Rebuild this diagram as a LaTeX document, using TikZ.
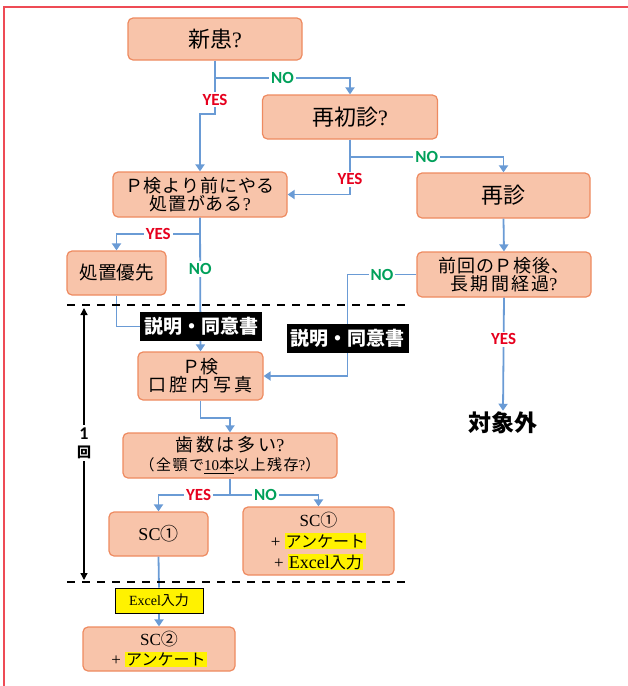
\documentclass[tikz,border=0pt]{standalone}
\usepackage{fontspec}
\setmainfont{Liberation Serif}
\newfontfamily\jpf{Noto Sans CJK JP}
\newfontfamily\jps[LetterSpace=5]{Noto Sans CJK JP}
\newfontfamily\calfont{Carlito}
\usetikzlibrary{arrows.meta,calc}
\definecolor{boxfill}{HTML}{F8C4AA}
\definecolor{boxline}{HTML}{EE8A60}
\definecolor{arrblue}{HTML}{6A9BD5}
\definecolor{yesred}{HTML}{E6001E}
\definecolor{nogreen}{HTML}{00A05A}
\definecolor{framered}{HTML}{EE4B55}
\newcommand\hl[1]{{\setlength\fboxsep{1pt}\colorbox{yellow}{#1}}}
\newcommand\fs[2]{\fontsize{#1}{#2}\selectfont}
\begin{document}
\begin{tikzpicture}[x=1pt,y=-1pt,
  box/.style={draw=boxline, fill=boxfill, line width=1.2pt, rounded corners=5pt,
    inner sep=0pt, align=center, text=black},
  arr/.style={draw=arrblue, line width=1.8pt, -{Triangle[length=7pt,width=9pt]}},
  ln/.style={draw=arrblue, line width=1.8pt},
  yes/.style={fill=white, text=yesred, font=\calfont\bfseries\fs{17}{17}, inner sep=2pt},
  no/.style={fill=white, text=nogreen, font=\calfont\bfseries\fs{17}{17}, inner sep=2pt},
  blk/.style={fill=black, text=white, font=\jpf\bfseries\fs{19}{19}, minimum width=122,
    minimum height=29, inner sep=0pt},
  dash line/.style={draw=black, line width=1.5pt, dash pattern=on 8pt off 7pt},
]
\useasboundingbox (0,0) rectangle (628,686);
\draw[framered, line width=1.2pt] (4,690) -- (4,7) -- (632,7);

% boxes
\node[box, minimum width=174, minimum height=42, font=\fs{22}{22}] (n1) at (215,39) {{\jpf 新患}?};
\node[box, minimum width=175, minimum height=44, font=\fs{22}{22}] (n2) at (350,117) {{\jpf 再初診}?};
\node[box, minimum width=174, minimum height=45, font=\fs{18}{18}] (n3) at (200,194.5)
  {{\jps Ｐ検より前にやる}\\{\jps 処置がある}?};
\node[box, minimum width=173, minimum height=45, font=\fs{22}{22}] (n4) at (503.5,195.5) {{\jpf 再診}};
\node[box, minimum width=174, minimum height=45, font=\fs{18}{18}] (n5) at (504,274.5)
  {{\jps 前回のＰ検後、}\\{\jps\addfontfeature{LetterSpace=12} 長期間経過}?};
\node[box, minimum width=99, minimum height=44, font=\fs{18.5}{18.5}] (n6) at (116.5,273) {{\jpf 処置優先}};
\node[box, minimum width=125, minimum height=48, font=\fs{18}{18}] (n7) at (200.5,376)
  {{\jps Ｐ検}\\{\jps\addfontfeature{LetterSpace=20} 口腔内写真}};
\node[box, minimum width=214, minimum height=45, font=\fs{18}{19}] (n8) at (230,455.5)
  {{\jps\addfontfeature{LetterSpace=15} 歯数は多い}?\\{\fs{15}{15}{\jps\addfontfeature{LetterSpace=10} （全顎で}\underline{10{\jpf 本}}{\jps\addfontfeature{LetterSpace=10} 以上残存}?{\jpf ）}}};
\node[box, minimum width=99, minimum height=44, font=\fs{18}{18}] (n9) at (158.5,534) {SC{\jpf ①}};
\node[box, minimum width=151, minimum height=68, font=\fs{17}{21}] (n10) at (318.5,541)
  {SC{\jpf ①}\\+ \hl{\fs{16}{16}\jpf アンケート}\\+ \hl{\fs{18}{18}Excel{\jpf\fs{16}{16}入力}}};
\node[draw=black, fill=yellow, line width=1pt, minimum width=88, minimum height=25,
  inner sep=0pt, font=\fs{14}{14}] (n11) at (159,600.5) {Excel{\jpf 入力}};
\node[box, minimum width=152, minimum height=44, font=\fs{17}{20}] (n12) at (159,649)
  {SC{\jpf ②}\\+ \hl{\fs{16}{16}\jpf アンケート}};
\node[font=\jpf\bfseries\fs{23}{23}, inner sep=1pt] (t1) at (503,423) {対象外};

% connectors
\draw[arr] (n1.south) -- ++(0,17) -| (n2.north) node[no,pos=0.25]{NO};
\draw[arr] (n1.south) -- ++(0,53) node[yes,pos=0.74]{YES} -| (n3.north);
\draw[arr] (n2.south) -- ++(0,17) -| (n4.north) node[no,pos=0.25]{NO};
\draw[arr] (n2.south) |- (n3.east) node[yes,pos=0.36]{YES};
\draw[arr] (n4.south) -- (n5.north);
\draw[arr] (n5.west) -- ++(-69,0) node[no,midway]{NO} |- (n7.east);
\draw[arr] (n5.south) -- (t1.north) node[yes,pos=0.37]{YES};
\draw[arr] (n3.south) -- (n7.north) node[no,pos=0.385]{NO};
\draw[arr] (n3.south) -- ++(0,16) -| (n6.north) node[yes,pos=0.25]{YES};
\node[blk] (lab1) at (201,326.5) {説明・同意書};
\draw[ln] (n6.south) |- (lab1.west);
\node[blk] (lab2) at (347.5,338.5) {説明・同意書};
\draw[arr] (n7.south) -- ++(0,17) -| (n8.north);
\draw[arr] (n8.south) -- ++(0,16) -| (n9.north) node[yes,pos=0.22]{YES};
\draw[arr] (n8.south) -- ++(0,16) -| (n10.north) node[no,pos=0.2]{NO};
\draw[ln] (n9.south) -- (n11.north);
\draw[arr] (n11.south) -- (n12.north);

% dashed separators
\coordinate (s1a) at (67,305); \coordinate (s1b) at (407,305);
\coordinate (s2a) at (67,582); \coordinate (s2b) at (407,582);
\draw[dash line] (s1a) -- (s1b);
\draw[dash line] (s2a) -- (s2b);

% one-visit span
\coordinate (d1) at (84,308); \coordinate (d2) at (84,580);
\draw[black, line width=1.3pt, {Triangle[length=7pt,width=7pt]}-{Triangle[length=7pt,width=7pt]}] (d1) -- (d2);
\node[fill=white, align=center, inner sep=2pt, font=\fs{15}{18}] (once) at (84,443)
  {{\calfont\bfseries\fs{18}{18}1}\\{\jpf\bfseries\fs{14}{14}回}};
\end{tikzpicture}
\end{document}
